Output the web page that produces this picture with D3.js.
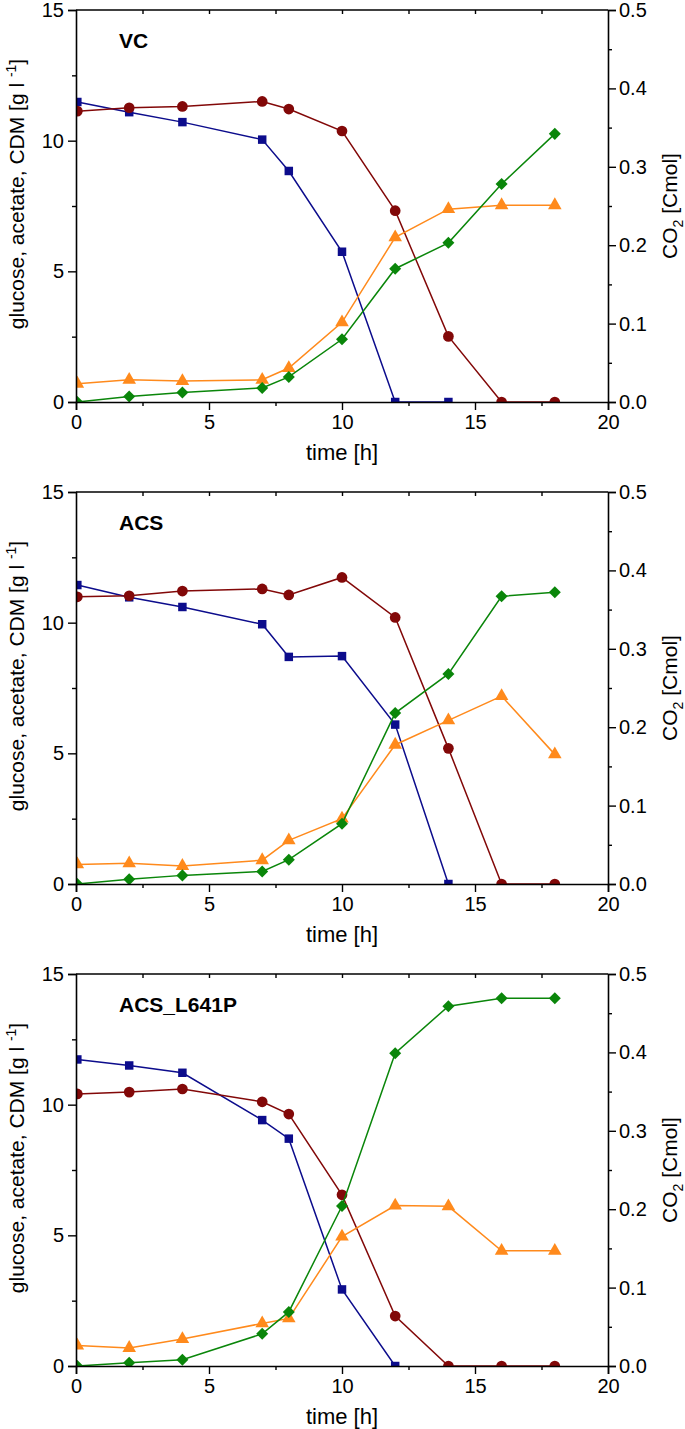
<!DOCTYPE html>
<html><head><meta charset="utf-8">
<script src="https://cdn.jsdelivr.net/npm/d3@7"></script>
<style>
html,body{margin:0;padding:0;background:#fff;}
text{font-family:"Liberation Sans",Arial,sans-serif;fill:#000;}
</style></head>
<body>
<svg id="chart" width="685" height="1429"></svg>
<script>
// ---- data ----
const time = [0.05, 2, 4, 7, 8, 10, 12, 14, 16, 18];
const panelNames = ["VC", "ACS", "ACS_L641P"];
const leftTicks = [0, 5, 10, 15];
const rightTicks = [0.0, 0.1, 0.2, 0.3, 0.4, 0.5];
const xTicks = [0, 5, 10, 15, 20];

// blue squares [g/l]
const squaresVC   = [11.48, 11.09, 10.71, 10.04, 8.84, 5.75, 0, 0, null, null];
const squaresACS  = [11.44, 10.97, 10.60, 9.94, 8.69, 8.72, 6.10, 0, null, null];
const squaresL641 = [11.73, 11.50, 11.22, 9.41, 8.70, 2.93, 0, null, null, null];
// dark red circles [g/l]
const circlesVC   = [11.13, 11.26, 11.31, 11.50, 11.21, 10.37, 7.32, 2.51, 0, 0];
const circlesACS  = [10.99, 11.03, 11.21, 11.29, 11.06, 11.73, 10.20, 5.19, 0, 0];
const circlesL641 = [10.41, 10.48, 10.60, 10.11, 9.64, 6.55, 1.91, 0, 0, 0];
// orange triangles [g/l]
const trianglesVC   = [0.70, 0.85, 0.80, 0.85, 1.30, 3.05, 6.30, 7.38, 7.53, 7.53];
const trianglesACS  = [0.75, 0.79, 0.69, 0.91, 1.67, 2.50, 5.33, 6.26, 7.19, 4.96];
const trianglesL641 = [0.78, 0.69, 1.03, 1.63, 1.82, 4.95, 6.14, 6.11, 4.41, 4.41];
// green diamonds: CO2 [Cmol] (right axis)
const diamondsVC   = [0.000, 0.007, 0.012, 0.018, 0.032, 0.080, 0.170, 0.203, 0.278, 0.342];
const diamondsACS  = [0.000, 0.006, 0.011, 0.016, 0.031, 0.077, 0.218, 0.268, 0.367, 0.372];
const diamondsL641 = [0.000, 0.004, 0.008, 0.041, 0.069, 0.204, 0.399, 0.459, 0.469, 0.469];

const panelSquares = [squaresVC, squaresACS, squaresL641];
const panelCircles = [circlesVC, circlesACS, circlesL641];
const panelTriangles = [trianglesVC, trianglesACS, trianglesL641];
const panelDiamonds = [diamondsVC, diamondsACS, diamondsL641];

// ---- layout ----
const svg = d3.select("#chart");
const L = 76, R = 608, panelTop0 = 10, panelH = 392, panelStep = 482;
const x = d3.scaleLinear().domain([0, 20]).range([L, R]);
const colors = {sq: "#0c0c8c", ci: "#820808", tr: "#ff8a1c", di: "#0a860a"};
const tickFont = "20px", titleFont = "21px";

function styleAxis(sel, showDomain) {
  sel.selectAll(".domain").attr("stroke", showDomain ? "#000" : "none").attr("stroke-width", 1.6);
  sel.selectAll(".tick line").attr("stroke-width", 1.4);
  sel.selectAll(".tick text").style("font-size", tickFont)
    .style("font-family", '"Liberation Sans",Arial,sans-serif');
}

function drawPanel(i) {
  const top = panelTop0 + i * panelStep, bottom = top + panelH;
  const yL = d3.scaleLinear().domain([0, 15]).range([bottom, top]);
  const yR = d3.scaleLinear().domain([0, 0.5]).range([bottom, top]);
  const g = svg.append("g");

  const clipId = "clip" + i;
  svg.append("clipPath").attr("id", clipId).append("rect")
    .attr("x", L).attr("y", top).attr("width", R - L).attr("height", bottom - top);
  const plot = g.append("g").attr("clip-path", `url(#${clipId})`);

  function series(vals, yScale, color, symType, size) {
    const pts = time.map((t, k) => ({t, v: vals[k]})).filter(d => d.v !== null);
    plot.append("path").datum(pts)
      .attr("fill", "none").attr("stroke", color).attr("stroke-width", 1.5)
      .attr("d", d3.line().x(d => x(d.t)).y(d => yScale(d.v)));
    const sym = d3.symbol().type(symType).size(size);
    plot.selectAll(null).data(pts).enter().append("path")
      .attr("transform", d => `translate(${x(d.t)},${yScale(d.v)})`)
      .attr("d", sym).attr("fill", color);
  }
  series(panelSquares[i], yL, colors.sq, d3.symbolSquare, 72);
  series(panelCircles[i], yL, colors.ci, d3.symbolCircle, 90);
  series(panelTriangles[i], yL, colors.tr, d3.symbolTriangle, 80);
  series(panelDiamonds[i], yR, colors.di, d3.symbolDiamond2, 92);

  // axes
  g.append("g").attr("transform", `translate(${L},0)`)
    .call(d3.axisLeft(yL).tickValues(leftTicks).tickSize(8).tickPadding(4).tickFormat(d3.format("d")))
    .call(s => styleAxis(s, true));
  g.append("g").attr("transform", `translate(${L},0)`)
    .call(d3.axisLeft(yL).tickValues([2.5, 7.5, 12.5]).tickSize(4).tickFormat(""))
    .call(s => styleAxis(s, false));

  g.append("g").attr("transform", `translate(${R},0)`)
    .call(d3.axisRight(yR).tickValues(rightTicks).tickSize(8).tickPadding(3).tickFormat(d3.format(".1f")))
    .call(s => styleAxis(s, true));
  g.append("g").attr("transform", `translate(${R},0)`)
    .call(d3.axisRight(yR).tickValues([0.05, 0.15, 0.25, 0.35, 0.45]).tickSize(4).tickFormat(""))
    .call(s => styleAxis(s, false));

  g.append("g").attr("transform", `translate(0,${bottom})`)
    .call(d3.axisBottom(x).tickValues(xTicks).tickSize(8).tickPadding(5).tickFormat(d3.format("d")))
    .call(s => styleAxis(s, true));
  g.append("g").attr("transform", `translate(0,${bottom})`)
    .call(d3.axisBottom(x).tickValues([2.5, 7.5, 12.5, 17.5]).tickSize(4).tickFormat(""))
    .call(s => styleAxis(s, false));

  g.append("g").attr("transform", `translate(0,${top})`)
    .call(d3.axisBottom(x).tickValues([2.5, 5, 7.5, 10, 12.5, 15, 17.5]).tickSize(4).tickFormat(""))
    .call(s => styleAxis(s, false));
  g.append("line").attr("x1", L).attr("x2", R).attr("y1", top).attr("y2", top)
    .attr("stroke", "#000").attr("stroke-width", 1.6);

  // titles
  g.append("text").attr("x", 119).attr("y", top + 38)
    .style("font-size", titleFont).style("font-weight", "bold").text(panelNames[i]);

  g.append("text").attr("x", (L + R) / 2).attr("y", bottom + 58)
    .attr("text-anchor", "middle").style("font-size", "22px").text("time [h]");

  const yl = g.append("text")
    .attr("transform", `translate(24,${(top + bottom) / 2 - 12}) rotate(-90)`)
    .attr("text-anchor", "middle").style("font-size", titleFont);
  yl.append("tspan").text("glucose, acetate, CDM [g l ");
  yl.append("tspan").attr("dy", -8).style("font-size", "14px").text("-1");
  yl.append("tspan").attr("dy", 8).text("]");

  const yr = g.append("text")
    .attr("transform", `translate(677,${(top + bottom) / 2}) rotate(-90)`)
    .attr("text-anchor", "middle").style("font-size", titleFont);
  yr.append("tspan").text("CO");
  yr.append("tspan").attr("dy", 6).style("font-size", "14px").text("2");
  yr.append("tspan").attr("dy", -6).text(" [Cmol]");
}

[0, 1, 2].forEach(drawPanel);
</script>
</body></html>
